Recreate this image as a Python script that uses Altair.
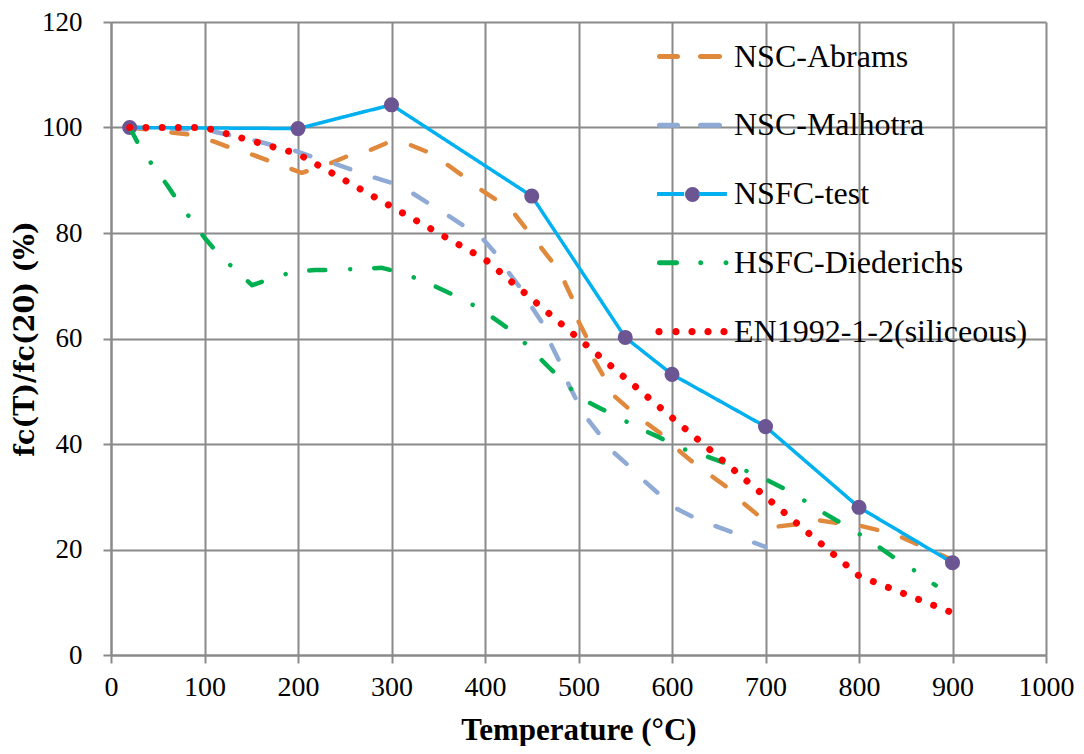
import altair as alt
import pandas as pd

# ---------------- data ----------------
SERIES = ["NSC-Abrams", "NSC-Malhotra", "NSFC-test", "HSFC-Diederichs", "EN1992-1-2(siliceous)"]

abrams_T = [20, 63, 87, 109, 129, 152, 172, 204, 236, 256, 277, 298, 320, 338, 357, 375, 393, 411,
            430, 443, 458, 472, 483, 493, 498, 509, 515, 526, 537, 553, 571, 587, 603, 622, 641,
            659, 675, 692, 710, 734, 755, 777, 799, 820, 842, 862, 900]
abrams_v = [100, 99.1, 98.6, 97.4, 96.1, 94.8, 93.5, 91.4, 93.3, 94.8, 95.7, 97.3, 96.7, 95.4, 93.3,
            91.0, 88.5, 86.4, 84.0, 81.0, 77.7, 74.5, 71.5, 67.7, 63.9, 60.1, 56.5, 53.1, 49.3, 46.8,
            44.2, 42.1, 39.4, 36.6, 34.1, 31.8, 29.0, 26.5, 24.3, 24.8, 25.6, 25.0, 24.6, 23.7, 22.6,
            21.0, 18.0]

malhotra_T = [20, 100, 152, 172, 195, 216, 237, 259, 280, 300, 322, 339, 360, 376, 397, 411, 425, 437,
              450, 461, 470, 480, 488, 498, 509, 523, 537, 553, 569, 585, 603, 622, 644, 664, 686, 700]
malhotra_v = [100, 99.6, 97.6, 96.7, 95.7, 94.4, 93.3, 91.9, 90.6, 89.5, 87.6, 85.7, 83.4, 81.5, 79.0,
              76.2, 72.6, 69.8, 66.0, 63.0, 59.1, 55.5, 51.8, 48.3, 44.9, 41.7, 38.5, 36.0, 33.2,
              30.7, 27.9, 26.2, 24.6, 23.3, 21.4, 20.5]

test_T = [20, 200, 300, 450, 550, 600, 700, 800, 900]
test_v = [100, 99.8, 104.3, 87.0, 60.2, 53.2, 43.3, 28.0, 17.5]

died_T = [20, 31, 45, 60, 72, 86, 100, 114, 133, 151, 170, 194, 218, 240, 264, 290, 311, 333, 355,
          375, 397, 416, 434, 451, 468, 484, 502, 523, 542, 565, 586, 606, 630, 653, 674, 696, 718,
          737, 757, 779, 797, 818, 838, 857, 877, 882]
died_v = [100, 96.3, 92.7, 89.1, 85.9, 82.5, 79.1, 76.2, 73.0, 70.1, 71.3, 72.6, 73.0, 73.0, 73.2,
          73.4, 72.4, 71.0, 69.2, 67.5, 65.4, 63.0, 60.7, 57.6, 54.6, 51.8, 48.7, 46.8, 45.1, 43.0,
          41.3, 39.4, 38.1, 36.6, 35.3, 33.7, 31.7, 29.8, 27.5, 25.2, 23.3, 20.9, 18.4, 16.3, 13.8,
          13.2]

en_T = [20, 100, 200, 300, 400, 500, 600, 700, 800, 900]
en_v = [100, 100, 95, 85, 75, 60, 45, 30, 15, 8]

X_TICKS = [0, 100, 200, 300, 400, 500, 600, 700, 800, 900, 1000]
Y_TICKS = [0, 20, 40, 60, 80, 100, 120]

# ---------------- styles ----------------
COLORS = ["#E0893D", "#8FAAD4", "#00B0F0", "#00B050", "#FF0000"]
MARKER = "#6B5593"
DASHES = [[16, 26], [16, 26], [1, 0], [16, 25, 0.01, 24], [0.01, 16.208]]
WIDTHS = [4.5, 4.5, 3.5, 4.5, 7]
GRID = "#8A8A8A"
SERIF = "Liberation Serif"
YTITLE_FONT = "DejaVu Serif"


# legend symbol shapes, unit box [-1, 1] (scaled to 73 px)
def circ(cx, r):
    return (f"M{cx - r:.4f},0A{r:.4f},{r:.4f} 0 1,0 {cx + r:.4f},0"
            f"A{r:.4f},{r:.4f} 0 1,0 {cx - r:.4f},0Z")


def pill(x1, x2, h):
    return (f"M{x1:.4f},{-h:.4f}L{x2:.4f},{-h:.4f}A{h:.4f},{h:.4f} 0 0,1 {x2:.4f},{h:.4f}"
            f"L{x1:.4f},{h:.4f}A{h:.4f},{h:.4f} 0 0,1 {x1:.4f},{-h:.4f}Z")


def bar(x1, x2, h):
    return f"M{x1:.4f},{-h:.4f}L{x2:.4f},{-h:.4f}L{x2:.4f},{h:.4f}L{x1:.4f},{h:.4f}Z"


SYMBOLS = [
    pill(-0.877, -0.384, 0.07) + pill(0.247, 0.767, 0.07),
    pill(-0.877, -0.384, 0.07) + pill(0.247, 0.767, 0.07),
    bar(-0.945, -0.2, 0.055) + bar(0.2, 0.97, 0.055),
    pill(-0.877, -0.411, 0.07) + circ(0.252, 0.068) + circ(0.945, 0.068),
    "".join(circ(c, 0.099) for c in [-0.890, -0.425, 0.014, 0.452, 0.890]),
]
ROW_Y = [56.5, 125.3, 194, 262.7, 331.7]   # legend row centres in the page

frames = []
for name, T, v in [(SERIES[0], abrams_T, abrams_v), (SERIES[1], malhotra_T, malhotra_v),
                   (SERIES[2], test_T, test_v), (SERIES[3], died_T, died_v),
                   (SERIES[4], en_T, en_v)]:
    frames.append(pd.DataFrame({"T": T, "v": v, "series": name}))
df = pd.concat(frames, ignore_index=True)

x_enc = alt.X("T:Q", scale=alt.Scale(domain=[0, 1000], nice=False),
              axis=alt.Axis(values=X_TICKS, format="d", title="Temperature (°C)", labelFont=SERIF,
                            labelFontSize=28, labelColor="black", labelPadding=10,
                            titleFont=SERIF, titleFontSize=31, titleFontWeight="bold",
                            titleColor="black", titlePadding=14, domainColor=GRID, domainWidth=2,
                            tickColor=GRID, tickWidth=2, tickSize=8, gridColor=GRID, gridWidth=2,
                            grid=True, labelFlush=False, labelOverlap=False))
y_enc = alt.Y("v:Q", scale=alt.Scale(domain=[0, 120], nice=False),
              axis=alt.Axis(values=Y_TICKS, title="fc(T)/fc(20) (%)", labelFont=SERIF,
                            labelFontSize=27, labelColor="black", labelPadding=21,
                            titleFont=YTITLE_FONT, titleFontSize=27, titleFontWeight="bold",
                            titleColor="black", titlePadding=2, domainColor=GRID, domainWidth=2,
                            tickColor=GRID, tickWidth=2, tickSize=8, gridColor=GRID, gridWidth=2,
                            grid=True, labelFlush=False, labelOverlap=False))

color_enc = alt.Color("series:N", scale=alt.Scale(domain=SERIES, range=COLORS), legend=None)
dash_enc = alt.StrokeDash("series:N", scale=alt.Scale(domain=SERIES, range=DASHES), legend=None)

layers = []
for i, s in enumerate(SERIES):
    layers.append(
        alt.Chart(df).transform_filter(alt.datum.series == s)
        .mark_line(strokeWidth=WIDTHS[i], strokeCap="round", strokeJoin="round")
        .encode(x=x_enc, y=y_enc, color=color_enc, strokeDash=dash_enc)
    )
    if s == "NSFC-test":
        layers.append(
            alt.Chart(df).transform_filter(alt.datum.series == s)
            .transform_calculate(mk="'marker'")
            .mark_point(filled=True, size=227, opacity=1, strokeWidth=0)
            .encode(x=x_enc, y=y_enc,
                    fill=alt.Fill("mk:N", scale=alt.Scale(domain=["marker"], range=[MARKER]),
                                  legend=alt.Legend(orient="none", legendX=573.5,
                                                    legendY=ROW_Y[2] - 22 - 7.5,
                                                    title=None, labelExpr="''",
                                                    symbolType="circle", symbolSize=227,
                                                    symbolStrokeWidth=0, padding=0,
                                                    labelFontSize=1, labelOffset=0)))
        )

# legend entries: one invisible point layer per series, each with its own shape legend
for i, s in enumerate(SERIES):
    layers.append(
        alt.Chart(df).transform_filter(alt.datum.series == s)
        .mark_point(filled=True, opacity=0, color=COLORS[i], size=1)
        .encode(x=x_enc, y=y_enc,
                shape=alt.Shape("series:N", scale=alt.Scale(domain=[s], range=[SYMBOLS[i]]),
                                legend=alt.Legend(orient="none", legendX=544,
                                                  legendY=ROW_Y[i] - 22 - 36.5, title=None,
                                                  symbolSize=5329, symbolStrokeWidth=0,
                                                  symbolOpacity=1, symbolFillColor=COLORS[i],
                                                  labelFont=SERIF, labelFontSize=32,
                                                  labelColor="black", labelOffset=6,
                                                  labelLimit=600, padding=0)))
    )

chart = alt.layer(*layers).resolve_scale(shape="independent").properties(
    width=935, height=633,
    autosize=alt.AutoSizeParams(type="none"),
    padding={"left": 103, "top": 14, "right": 30, "bottom": 91},
    background="white",
).configure_view(stroke=None)

chart.save("out.html", embed_options={"renderer": "svg", "actions": False})
